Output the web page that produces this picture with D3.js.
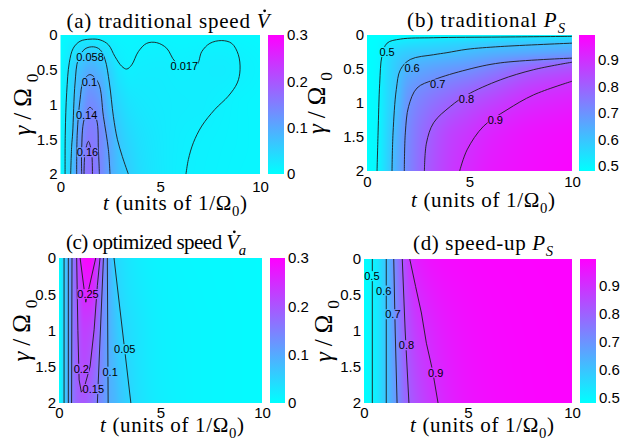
<!DOCTYPE html>
<html>
<head>
<meta charset="utf-8">
<script src="https://cdn.jsdelivr.net/npm/d3@7"></script>
<style>
body { margin: 0; background: #fff; }
svg { display: block; }
</style>
</head>
<body>
<script>
// ---- axes ----
const tTicks = [0, 5, 10];
const gTicks = [0, 0.5, 1, 1.5, 2];

// ---- (a) traditional speed ----
const aT = [0, 0.5, 1, 1.5, 2, 2.5, 3, 3.5, 4, 5, 6, 7, 8, 9, 10];
const aG = [0, 0.5, 1, 1.5, 2];
const aZ = [
    [0.004, 0.008, 0.011, 0.013, 0.012, 0.011, 0.010, 0.010, 0.011, 0.011, 0.010, 0.010, 0.011, 0.009, 0.007],
    [0.004, 0.040, 0.075, 0.095, 0.080, 0.050, 0.025, 0.018, 0.020, 0.021, 0.018, 0.020, 0.021, 0.017, 0.012],
    [0.004, 0.050, 0.100, 0.137, 0.120, 0.070, 0.045, 0.032, 0.027, 0.023, 0.021, 0.020, 0.016, 0.012, 0.010],
    [0.004, 0.055, 0.125, 0.158, 0.140, 0.100, 0.062, 0.045, 0.035, 0.025, 0.019, 0.016, 0.014, 0.012, 0.010],
    [0.004, 0.060, 0.138, 0.168, 0.142, 0.100, 0.070, 0.055, 0.040, 0.026, 0.018, 0.015, 0.013, 0.011, 0.010]
];
const aLines = [
    [[0.23, 2], [0.24, 1.41], [0.31, 0.83], [0.44, 0.40], [0.64, 0.19], [0.98, 0.09], [1.48, 0.06], [1.98, 0.07],
     [2.40, 0.14], [2.73, 0.31], [3.07, 0.45], [3.32, 0.49], [3.57, 0.43], [3.90, 0.24], [4.32, 0.12], [4.82, 0.11],
     [5.32, 0.19], [5.74, 0.38], [6.24, 0.45], [6.83, 0.43], [7.08, 0.24], [7.49, 0.12], [8.08, 0.08], [8.58, 0.12],
     [8.91, 0.28], [9.0, 0.50], [8.86, 0.69], [8.41, 0.88], [7.74, 1.07], [7.08, 1.31], [6.66, 1.55], [6.41, 1.79], [6.29, 2]],
    [[0.51, 2], [0.56, 1.6], [0.61, 1.41], [0.73, 0.69], [0.89, 0.35], [1.23, 0.20], [1.65, 0.17], [1.98, 0.21],
     [2.23, 0.35], [2.45, 0.69], [2.65, 1.17], [2.85, 1.5], [3.1, 1.75], [3.4, 2]],
    [[0.81, 2], [0.84, 1.41], [0.98, 0.93], [1.15, 0.66], [1.48, 0.57], [1.9, 0.69], [2.15, 1.17], [2.4, 1.65], [2.48, 2]],
    [[1.06, 2], [1.06, 1.65], [1.18, 1.22], [1.48, 1.04], [1.81, 1.22], [1.9, 1.65], [1.95, 2]],
    [[1.18, 2], [1.23, 1.7], [1.4, 1.53], [1.56, 1.7], [1.6, 2]]
];
const aLabels = [["0.058", 1.48, 0.32], ["0.1", 1.45, 0.68], ["0.14", 1.31, 1.15], ["0.16", 1.35, 1.69], ["0.017", 6.21, 0.45]];

// ---- (b) traditional P_S ----
const bT = [0, 0.5, 1, 1.5, 2, 3, 4, 5, 6, 8, 10];
const bG = [0, 0.1, 0.25, 0.5, 1, 1.5, 2];
const bZ = [
    [0.475, 0.478, 0.480, 0.482, 0.484, 0.486, 0.488, 0.490, 0.491, 0.493, 0.495],
    [0.478, 0.485, 0.505, 0.520, 0.530, 0.540, 0.550, 0.560, 0.570, 0.585, 0.595],
    [0.479, 0.490, 0.540, 0.565, 0.580, 0.590, 0.600, 0.615, 0.630, 0.650, 0.670],
    [0.480, 0.495, 0.550, 0.595, 0.635, 0.665, 0.685, 0.702, 0.730, 0.795, 0.830],
    [0.480, 0.495, 0.555, 0.615, 0.695, 0.755, 0.795, 0.830, 0.860, 0.910, 0.935],
    [0.480, 0.498, 0.565, 0.640, 0.715, 0.800, 0.860, 0.893, 0.925, 0.960, 0.975],
    [0.480, 0.500, 0.570, 0.650, 0.720, 0.815, 0.875, 0.915, 0.945, 0.970, 0.985]
];
const bLines = [
    [[0.49, 2], [0.54, 1.44], [0.62, 0.71], [0.73, 0.31], [0.98, 0.12], [1.63, 0.06], [3.25, 0.04], [6.5, 0.03], [10, 0.02]],
    [[1.22, 2], [1.27, 1.44], [1.43, 0.80], [1.63, 0.51], [2.11, 0.36], [3.25, 0.29], [3.9, 0.26], [4.88, 0.21], [6.5, 0.17], [10, 0.12]],
    [[1.82, 2], [1.87, 1.44], [2.03, 1.05], [2.44, 0.78], [3.25, 0.66], [4.88, 0.51], [6.5, 0.41], [10, 0.34]],
    [[2.80, 2], [2.9, 1.59], [3.25, 1.29], [4.07, 1.05], [4.88, 0.88], [6.5, 0.66], [8.13, 0.51], [10, 0.40]],
    [[4.52, 2], [4.88, 1.69], [5.69, 1.34], [6.83, 1.10], [8.13, 0.88], [10, 0.68]]
];
const bLabels = [["0.5", 0.98, 0.25], ["0.6", 2.2, 0.49], ["0.7", 3.45, 0.73], ["0.8", 4.85, 0.94], ["0.9", 6.26, 1.25]];

// ---- (c) optimized speed ----
const cT = [0, 0.25, 0.5, 0.75, 1, 1.25, 1.5, 1.75, 2, 2.25, 2.5, 2.75, 3, 4, 5, 7, 10];
const cG = [0, 0.5, 1, 1.5, 2];
const cZ = [
    [0, 0.05, 0.11, 0.17, 0.23, 0.29, 0.295, 0.26, 0.205, 0.14, 0.09, 0.05, 0.04, 0.02, 0.012, 0.008, 0.005],
    [0, 0.05, 0.11, 0.17, 0.22, 0.255, 0.255, 0.235, 0.175, 0.13, 0.09, 0.065, 0.047, 0.025, 0.015, 0.009, 0.005],
    [0, 0.05, 0.11, 0.17, 0.205, 0.225, 0.22, 0.20, 0.16, 0.125, 0.092, 0.072, 0.056, 0.03, 0.017, 0.01, 0.005],
    [0, 0.05, 0.11, 0.17, 0.20, 0.21, 0.20, 0.18, 0.148, 0.122, 0.094, 0.078, 0.063, 0.032, 0.018, 0.01, 0.005],
    [0, 0.05, 0.11, 0.17, 0.19, 0.195, 0.18, 0.16, 0.14, 0.12, 0.095, 0.085, 0.07, 0.035, 0.02, 0.01, 0.005]
];
const cLines = [
    [[0.25, 0], [0.25, 2]],
    [[0.46, 0], [0.46, 2]],
    [[0.64, 0], [0.62, 2]],
    [[0.87, 0], [0.93, 1], [0.99, 1.68], [1.10, 1.85], [1.23, 1.8], [1.53, 1.5], [1.73, 0.99], [1.89, 0.38], [2.02, 0]],
    [[1.04, 0], [1.32, 0.61], [1.81, 0]],
    [[2.19, 0], [1.89, 2]],
    [[2.38, 0], [2.42, 2]],
    [[2.71, 0], [3.54, 2]]
];
const cLabels = [["0.25", 1.43, 0.50], ["0.2", 1.10, 1.53], ["0.15", 1.69, 1.81], ["0.1", 2.52, 1.57], ["0.05", 3.24, 1.26]];

// ---- (d) speed-up P_S ----
const dT = [0, 0.5, 1, 1.5, 2, 2.5, 3, 3.5, 4, 5, 6, 8, 10];
const dG = [0, 1, 2];
const dZ = [
    [0.48, 0.51, 0.59, 0.72, 0.855, 0.93, 0.955, 0.967, 0.974, 0.981, 0.986, 0.99, 0.992],
    [0.48, 0.51, 0.59, 0.70, 0.815, 0.875, 0.905, 0.928, 0.945, 0.966, 0.977, 0.987, 0.991],
    [0.48, 0.51, 0.59, 0.68, 0.785, 0.835, 0.872, 0.90, 0.924, 0.955, 0.97, 0.985, 0.99]
];
const dLines = [
    [[0.40, 0], [0.40, 2]],
    [[1.07, 0], [1.07, 2]],
    [[1.43, 0], [1.5, 1], [1.59, 2]],
    [[1.84, 0], [1.98, 1], [2.16, 2]],
    [[2.2, 0], [2.48, 0.38], [2.76, 0.75], [3.0, 1.17], [3.29, 1.54], [3.56, 2]]
];
const dLabels = [["0.5", 0.38, 0.24], ["0.6", 0.95, 0.44], ["0.7", 1.39, 0.77], ["0.8", 2.04, 1.2], ["0.9", 3.45, 1.58]];

const speedTicks = [0, 0.1, 0.2, 0.3];
const probTicks = [0.5, 0.6, 0.7, 0.8, 0.9];

const W = 630, H = 439;
const sans = "'Liberation Sans', Arial, sans-serif";
const serif = "'Liberation Serif', 'Times New Roman', serif";

const svg = d3.select("body").append("svg").attr("width", W).attr("height", H);
const defs = svg.append("defs");

const grad = defs.append("linearGradient").attr("id", "cool")
    .attr("x1", 0).attr("y1", 1).attr("x2", 0).attr("y2", 0);
grad.append("stop").attr("offset", 0).attr("stop-color", "rgb(0,255,255)");
grad.append("stop").attr("offset", 1).attr("stop-color", "rgb(255,0,255)");

// monotone cubic (pchip) helpers for smoothing the coarse grids
function slopes(x, y) {
    const n = x.length, h = [], d = [], m = new Array(n);
    for (let i = 0; i < n - 1; i++) { h[i] = x[i + 1] - x[i]; d[i] = (y[i + 1] - y[i]) / h[i]; }
    m[0] = d[0]; m[n - 1] = d[n - 2];
    for (let i = 1; i < n - 1; i++) {
        if (d[i - 1] * d[i] <= 0) m[i] = 0;
        else {
            const w1 = 2 * h[i] + h[i - 1], w2 = h[i] + 2 * h[i - 1];
            m[i] = (w1 + w2) / (w1 / d[i - 1] + w2 / d[i]);
        }
    }
    return m;
}
function herm(x, y, m, q) {
    const n = x.length;
    if (q <= x[0]) return y[0];
    if (q >= x[n - 1]) return y[n - 1];
    let i = 0;
    while (q > x[i + 1]) i++;
    const h = x[i + 1] - x[i], s = (q - x[i]) / h;
    const s2 = s * s, s3 = s2 * s;
    return (2 * s3 - 3 * s2 + 1) * y[i] + (s3 - 2 * s2 + s) * h * m[i]
        + (-2 * s3 + 3 * s2) * y[i + 1] + (s3 - s2) * h * m[i + 1];
}

function rich(text, parts, fs) {
    let shift = 0;
    parts.forEach(p => {
        const ts = text.append("tspan").text(p.s);
        if (p.i) ts.attr("font-style", "italic");
        let dy = -shift;
        shift = 0;
        if (p.sub) {
            ts.attr("font-size", fs * 0.7);
            dy += fs * 0.28;
            shift = fs * 0.28;
        }
        if (dy) ts.attr("dy", dy);
    });
}

const panels = [
    { id: "a", t: aT, g: aG, z: aZ, lines: aLines, labels: aLabels, range: [0, 0.3], cbTicks: speedTicks,
      x0: 60.5, x1: 260, y0: 35, y1: 174, cb0: 268, cb1: 284, xpad: 7, curve: d3.curveCatmullRom,
      title: [{ s: "(a) traditional speed " }, { s: "V", i: true, dot: true }], tx: 168, ty: 28, tw: 203,
      xlx: 175, xly: 210, ylx: 31 },
    { id: "b", t: bT, g: bG, z: bZ, lines: bLines, labels: bLabels, range: [0.48, 0.995], cbTicks: probTicks,
      x0: 367, x1: 572, y0: 35, y1: 171, cb0: 579, cb1: 595, xpad: 5, curve: d3.curveCatmullRom,
      title: [{ s: "(b) traditional " }, { s: "P", i: true }, { s: "S", i: true, sub: true }], tx: 486, ty: 27, tw: 158,
      xlx: 483, xly: 207, ylx: 325 },
    { id: "c", t: cT, g: cG, z: cZ, lines: cLines, labels: cLabels, range: [0, 0.3], cbTicks: speedTicks,
      x0: 59, x1: 262, y0: 258, y1: 403, cb0: 270, cb1: 285, xpad: 4, curve: d3.curveLinear,
      title: [{ s: "(c) optimized speed " }, { s: "V", i: true, dot: true }, { s: "a", i: true, sub: true }], tx: 156, ty: 249, tw: 180,
      xlx: 172, xly: 432, ylx: 30 },
    { id: "d", t: dT, g: dG, z: dZ, lines: dLines, labels: dLabels, range: [0.48, 0.995], cbTicks: probTicks,
      x0: 364, x1: 572, y0: 259, y1: 403, cb0: 580, cb1: 596, xpad: 4, curve: d3.curveLinear,
      title: [{ s: "(d) speed-up " }, { s: "P", i: true }, { s: "S", i: true, sub: true }], tx: 483, ty: 250, tw: 140,
      xlx: 482, xly: 432, ylx: 332 }
];

function drawPanel(p) {
    const x = d3.scaleLinear().domain([0, 10]).range([p.x0, p.x1]);
    const y = d3.scaleLinear().domain([0, 2]).range([p.y0, p.y1]);
    const c = d3.scaleLinear().domain(p.range).range([0, 1]).clamp(true);

    // colour field
    const w = Math.round(p.x1 - p.x0), h = Math.round(p.y1 - p.y0);
    const canvas = document.createElement("canvas");
    canvas.width = w; canvas.height = h;
    const ctx = canvas.getContext("2d");
    const img = ctx.createImageData(w, h);
    const rowSl = p.z.map(r => slopes(p.t, r));
    for (let i = 0; i < w; i++) {
        const tq = x.invert(p.x0 + (i + 0.5) * (p.x1 - p.x0) / w);
        const col = p.z.map((r, k) => herm(p.t, r, rowSl[k], tq));
        const cs = slopes(p.g, col);
        for (let j = 0; j < h; j++) {
            const gq = y.invert(p.y0 + (j + 0.5) * (p.y1 - p.y0) / h);
            const v = c(herm(p.g, col, cs, gq));
            const o = (j * w + i) * 4;
            img.data[o] = Math.round(255 * v);
            img.data[o + 1] = Math.round(255 * (1 - v));
            img.data[o + 2] = 255;
            img.data[o + 3] = 255;
        }
    }
    ctx.putImageData(img, 0, 0);
    svg.append("image")
        .attr("x", p.x0).attr("y", p.y0)
        .attr("width", p.x1 - p.x0).attr("height", p.y1 - p.y0)
        .attr("preserveAspectRatio", "none")
        .attr("href", canvas.toDataURL());

    // contour labels first, so the lines can be masked around them
    const labels = svg.append("g")
        .attr("font-family", sans).attr("font-size", 11).attr("fill", "#000");
    labels.selectAll("text")
        .data(p.labels)
        .join("text")
        .attr("x", d => x(d[1]))
        .attr("y", d => y(d[2]))
        .attr("text-anchor", "middle")
        .attr("dy", "0.35em")
        .text(d => d[0]);

    defs.append("clipPath").attr("id", "clip-" + p.id)
        .append("rect").attr("x", p.x0).attr("y", p.y0)
        .attr("width", p.x1 - p.x0).attr("height", p.y1 - p.y0);
    const mask = defs.append("mask").attr("id", "mask-" + p.id)
        .attr("maskUnits", "userSpaceOnUse")
        .attr("x", 0).attr("y", 0).attr("width", W).attr("height", H);
    mask.append("rect").attr("width", W).attr("height", H).attr("fill", "#fff");
    labels.selectAll("text").each(function () {
        const b = this.getBBox();
        mask.append("rect").attr("x", b.x).attr("y", b.y + 1)
            .attr("width", b.width).attr("height", b.height - 2).attr("fill", "#000");
    });

    const line = d3.line().x(d => x(d[0])).y(d => y(d[1])).curve(p.curve);
    svg.insert("g", function () { return labels.node(); })
        .attr("clip-path", `url(#clip-${p.id})`)
        .attr("mask", `url(#mask-${p.id})`)
        .attr("fill", "none").attr("stroke", "#1c1c1c").attr("stroke-width", 0.9)
        .selectAll("path")
        .data(p.lines)
        .join("path")
        .attr("d", line);

    // axes
    const ax = svg.append("g").attr("transform", `translate(0,${p.y1})`)
        .call(d3.axisBottom(x).tickValues(tTicks).tickSize(0).tickPadding(p.xpad).tickFormat(d => d));
    const ay = svg.append("g").attr("transform", `translate(${p.x0},0)`)
        .call(d3.axisLeft(y).tickValues(gTicks).tickSize(0).tickPadding(3).tickFormat(d => d));

    // colour bar
    const cy = d3.scaleLinear().domain(p.range).range([p.y1, p.y0]);
    svg.append("rect")
        .attr("x", p.cb0).attr("y", p.y0)
        .attr("width", p.cb1 - p.cb0).attr("height", p.y1 - p.y0)
        .attr("fill", "url(#cool)");
    const ac = svg.append("g").attr("transform", `translate(${p.cb1},0)`)
        .call(d3.axisRight(cy).tickValues(p.cbTicks).tickSize(0).tickPadding(3).tickFormat(d => d));

    [ax, ay, ac].forEach(a => {
        a.select(".domain").remove();
        a.selectAll("text").attr("font-family", sans).attr("font-size", 15).attr("fill", "#000");
    });

    // title
    const fs = 21;
    const title = svg.append("text")
        .attr("x", p.tx).attr("y", p.ty)
        .attr("text-anchor", "middle")
        .attr("font-family", serif).attr("font-size", fs).attr("fill", "#000")
        .attr("textLength", p.tw).attr("lengthAdjust", "spacing");
    rich(title, p.title, fs);
    let idx = 0;
    p.title.forEach(part => {
        if (part.dot) {
            const e = title.node().getExtentOfChar(idx);
            svg.append("circle")
                .attr("cx", e.x + e.width * 0.62)
                .attr("cy", p.ty - fs * 0.82)
                .attr("r", 1.4).attr("fill", "#000");
        }
        idx += part.s.length;
    });

    // x label
    const xl = svg.append("text")
        .attr("x", p.xlx).attr("y", p.xly)
        .attr("text-anchor", "middle")
        .attr("font-family", serif).attr("font-size", fs).attr("fill", "#000")
        .attr("textLength", 144).attr("lengthAdjust", "spacing");
    rich(xl, [{ s: "t", i: true }, { s: " (units of 1/\u03A9" }, { s: "0", sub: true }, { s: ")" }], fs);

    // y label
    const yfs = 25;
    const yl = svg.append("text")
        .attr("transform", `translate(${p.ylx},${(p.y0 + p.y1) / 2}) rotate(-90)`)
        .attr("text-anchor", "middle")
        .attr("font-family", serif).attr("font-size", yfs).attr("fill", "#000")
        .attr("textLength", 62).attr("lengthAdjust", "spacing");
    rich(yl, [{ s: "\u03B3", i: true }, { s: "/\u03A9" }, { s: "0", sub: true }], yfs);
}

panels.forEach(drawPanel);
</script>
</body>
</html>
